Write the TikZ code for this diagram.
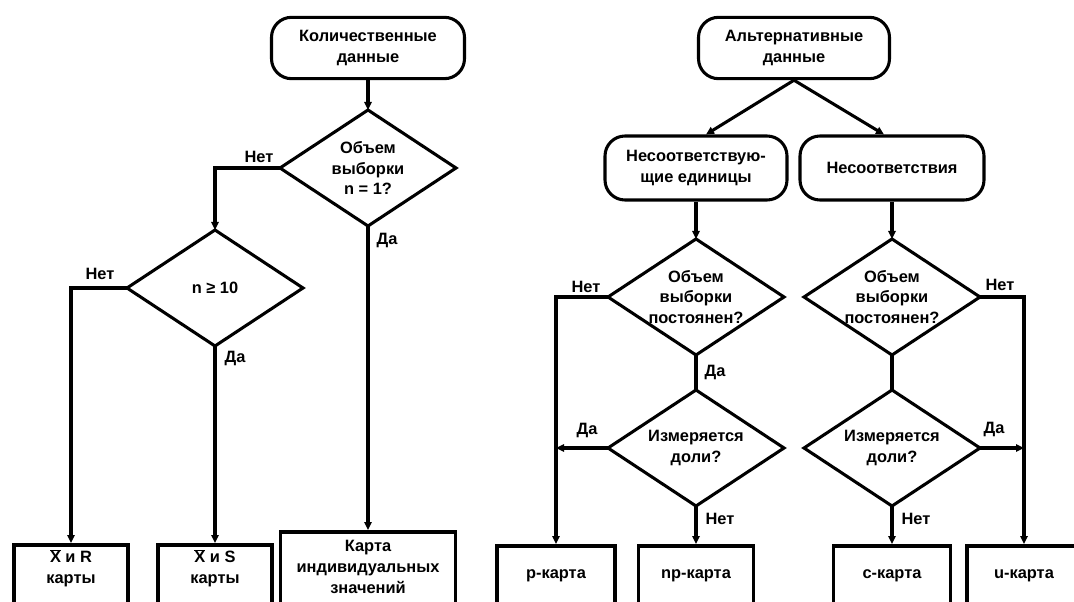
\documentclass[tikz,border=0pt]{standalone}
\usepackage{fontspec}
\setmainfont{Liberation Sans}
\usetikzlibrary{shapes.geometric,arrows.meta,calc}
\begin{document}
\begin{tikzpicture}[x=0.75pt,y=-0.75pt,
  every node/.style={font=\bfseries\fontsize{12.3}{15.5}\selectfont, align=center, inner sep=0pt},
  term/.style={draw, line width=2.3pt, rounded corners=15pt, minimum width=#1, minimum height=46pt},
  dia/.style={rectangle, outer sep=0pt, minimum width=132pt, minimum height=87pt},
  diaedge/.style={line width=2.3pt, line join=miter},
  outbox/.style={draw, line width=2.8pt, minimum width=#1, minimum height=80pt, anchor=north},
  conn/.style={line width=2.3pt},
  arr/.style={conn, -{Triangle[length=6pt,width=5.5pt]}},
  lab/.style={}
]
\useasboundingbox (0,0) rectangle (1074,602);
\clip (0,0) rectangle (1074,602);

% ---------- left part ----------
\node[term=144.75pt] (q) at (368,48) {Количественные\\данные};
\node[dia] (d1) at (368,168) {Объем\\выборки\\n = 1?};
\node[dia] (d2) at (215,288) {n ≥ 10};
\node[outbox=85.5pt] (b1) at (71,543) {};
\node[outbox=85.5pt] (b2) at (215,543) {};
\node[outbox=131.25pt] (b3) at (368,530) {};
\node (b1t) at (71,568) {$\overline{\mbox{X}}$ и R\\карты};
\node (b2t) at (215,568) {$\overline{\mbox{X}}$ и S\\карты};
\node (b3t) at (368,567) {Карта\\индивидуальных\\значений};

\foreach \d in {d1,d2}
  \draw[diaedge] (\d.north) -- (\d.east) -- (\d.south) -- (\d.west) -- cycle;

\draw[arr] (q.south) -- (d1.north);
\draw[arr] (d1.west) -| (d2.north);
\draw[arr] (d1.south) -- (b3.north);
\draw[arr] (d2.west) -| (b1.north);
\draw[arr] (d2.south) -- (b2.north);

\node[lab] (l1) at (259,157) {Нет};
\node[lab] (l2) at (387,240) {Да};
\node[lab] (l3) at (100,274) {Нет};
\node[lab] (l4) at (235,358) {Да};

% ---------- right part ----------
\node[term=143.25pt] (a) at (794,48) {Альтернативные\\данные};
\node[term=136.5pt, minimum height=48pt] (n1) at (696,168) {Несоответствую-\\щие единицы};
\node[term=138pt, minimum height=48pt] (n2) at (892,168) {Несоответствия};
\node[dia] (d3) at (696,297) {Объем\\выборки\\постоянен?};
\node[dia] (d4) at (696,448) {Измеряется\\доли?};
\node[dia] (d5) at (892,297) {Объем\\выборки\\постоянен?};
\node[dia] (d6) at (892,448) {Измеряется\\доли?};
\node[outbox=88.5pt] (p) at (556,544) {};
\node[outbox=86.25pt] (np) at (696,544) {};
\node[outbox=87.75pt] (c) at (892,544) {};
\node[outbox=85.5pt] (u) at (1024,544) {};
\node (pt) at (556,576) {p-карта};
\node (npt) at (696,576) {np-карта};
\node (ct) at (892,576) {c-карта};
\node (ut) at (1024,576) {u-карта};

\foreach \d in {d3,d4,d5,d6}
  \draw[diaedge] (\d.north) -- (\d.east) -- (\d.south) -- (\d.west) -- cycle;

\draw[arr] (a.south) -- ([xshift=7.5pt]n1.north);
\draw[arr] (a.south) -- ([xshift=-6pt]n2.north);
\draw[arr] (n1.south) -- (d3.north);
\draw[arr] (n2.south) -- (d5.north);
\draw[arr] (d3.west) -| (p.north);
\draw[conn] (d3.south) -- (d4.north);
\draw[arr] (d4.west) -- (d4.west -| p.north);
\draw[arr] (d4.south) -- (np.north);
\draw[arr] (d5.east) -| (u.north);
\draw[conn] (d5.south) -- (d6.north);
\draw[arr] (d6.east) -- (d6.east -| u.north);
\draw[arr] (d6.south) -- (c.north);

\node[lab] (l5) at (586,287) {Нет};
\node[lab] (l6) at (715,372) {Да};
\node[lab] (l7) at (587,430) {Да};
\node[lab] (l8) at (720,519) {Нет};
\node[lab] (l9) at (1000,285) {Нет};
\node[lab] (l10) at (994,429) {Да};
\node[lab] (l11) at (916,519) {Нет};
\end{tikzpicture}
\end{document}
